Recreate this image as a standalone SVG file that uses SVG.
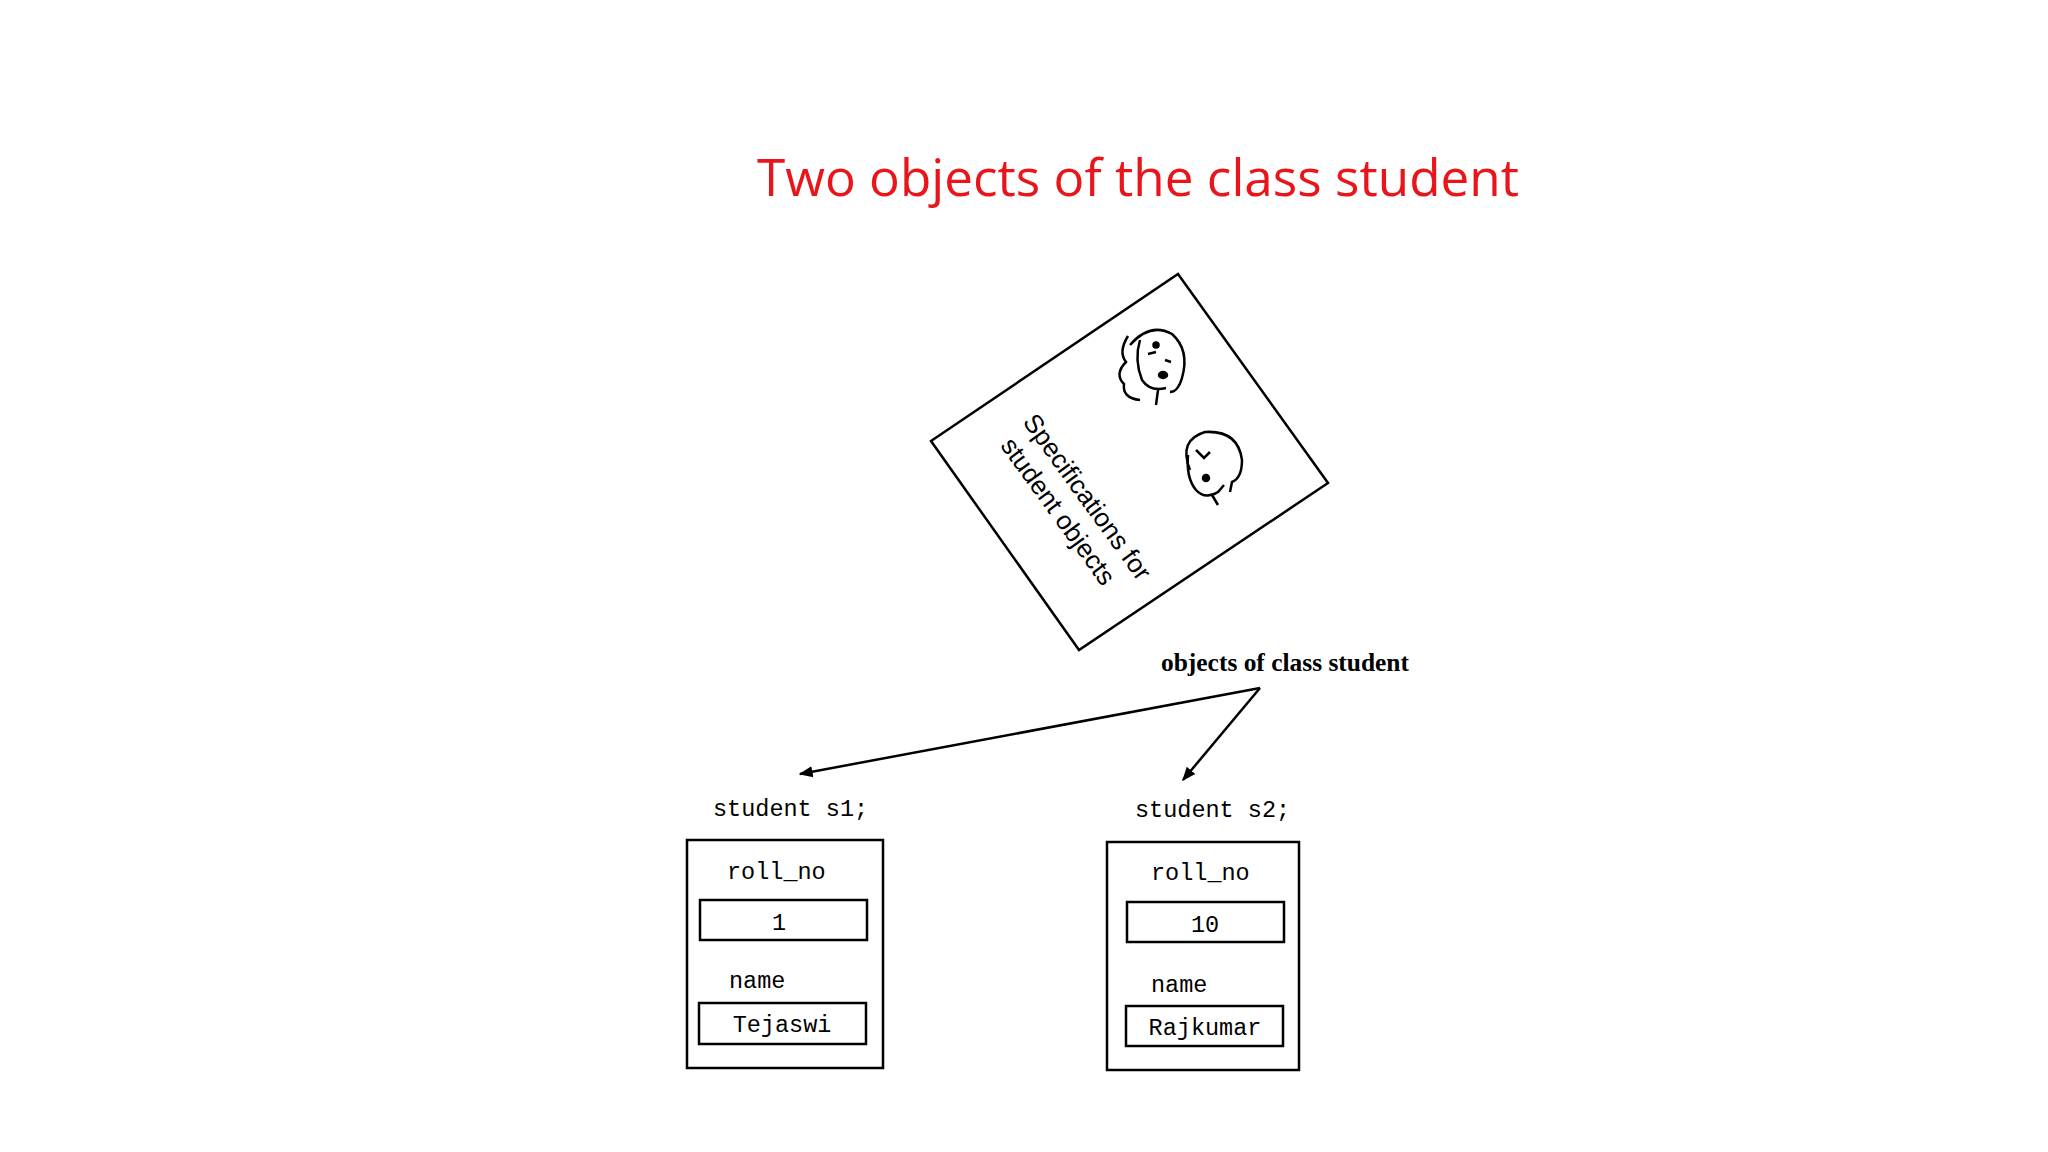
<svg xmlns="http://www.w3.org/2000/svg" width="2048" height="1152" viewBox="0 0 2048 1152">
<style>
.ln{fill:none;stroke:#000;stroke-width:2.5}
.mono{font-family:"Liberation Mono",monospace;font-size:23.5px;fill:#000}
.val{font-family:"Liberation Mono",monospace;font-size:23.5px;fill:#000;text-anchor:middle}
</style>
<defs>
<marker id="ah" viewBox="0 0 10 10" refX="9" refY="5" markerWidth="14" markerHeight="14" markerUnits="userSpaceOnUse" orient="auto"><path d="M0,1 L10,5 L0,9 Z" fill="#000"/></marker>
</defs>
<rect width="2048" height="1152" fill="#fff"/>
<text x="1138" y="196" text-anchor="middle" font-family="Open Sans, sans-serif" font-size="52" fill="#e8161b" textLength="762" lengthAdjust="spacingAndGlyphs">Two objects of the class student</text>
<g id="card">
<polygon points="1178,274 1328,483 1079,650 931,441" class="ln"/>
<g transform="translate(1022,422) rotate(54)" font-family="Liberation Sans, sans-serif" font-size="26" fill="#000">
<text x="0" y="0">Specifications for</text>
<text x="6" y="32">student objects</text>
</g>
<g id="face1" class="ln" stroke-width="2.2">
<path d="M1130,345 Q1150,322 1172,334 Q1190,350 1182,378 Q1178,392 1170,392"/>
<path d="M1128,336 Q1118,352 1126,362 Q1114,374 1124,384 Q1122,398 1140,400 M1140,340 Q1134,360 1142,380 Q1150,392 1166,388 M1158,390 L1156,405"/>
<circle cx="1156" cy="345" r="2.5" fill="#000"/>
<path d="M1148,354 l8,-2 M1165,360 l6,2"/>
<ellipse cx="1163" cy="375" rx="4" ry="3" fill="#000"/>
</g>
<g id="face2" class="ln" stroke-width="2.2">
<path d="M1190,470 Q1178,440 1205,432 Q1238,430 1242,460 Q1242,478 1232,482 L1230,492"/>
<path d="M1188,455 Q1186,478 1196,490 Q1205,500 1218,492 L1224,485 M1212,495 L1218,505"/>
<path d="M1196,450 l8,8 l6,-6"/>
<circle cx="1206" cy="478" r="3" fill="#000"/>
</g>
</g>
<text x="1161" y="671" font-family="Liberation Serif, serif" font-size="25" font-weight="bold" fill="#000" textLength="248" lengthAdjust="spacingAndGlyphs">objects of class student</text>
<g id="connectors">
<line x1="1260" y1="688" x2="800" y2="774" class="ln" marker-end="url(#ah)"/>
<line x1="1260" y1="688" x2="1183" y2="780" class="ln" marker-end="url(#ah)"/>
</g>
<g id="s1">
<text x="713" y="816" class="mono">student s1;</text>
<rect x="687" y="840" width="196" height="228" class="ln"/>
<text x="727" y="879" class="mono">roll_no</text>
<rect x="700" y="900" width="167" height="40" class="ln"/>
<text x="779" y="930" class="val">1</text>
<text x="729" y="988" class="mono">name</text>
<rect x="699" y="1003" width="167" height="41" class="ln"/>
<text x="782" y="1032" class="val">Tejaswi</text>
</g>
<g id="s2">
<text x="1135" y="817" class="mono">student s2;</text>
<rect x="1107" y="842" width="192" height="228" class="ln"/>
<text x="1151" y="880" class="mono">roll_no</text>
<rect x="1127" y="902" width="157" height="40" class="ln"/>
<text x="1205" y="932" class="val">10</text>
<text x="1151" y="992" class="mono">name</text>
<rect x="1126" y="1006" width="157" height="40" class="ln"/>
<text x="1205" y="1035" class="val">Rajkumar</text>
</g>
</svg>
